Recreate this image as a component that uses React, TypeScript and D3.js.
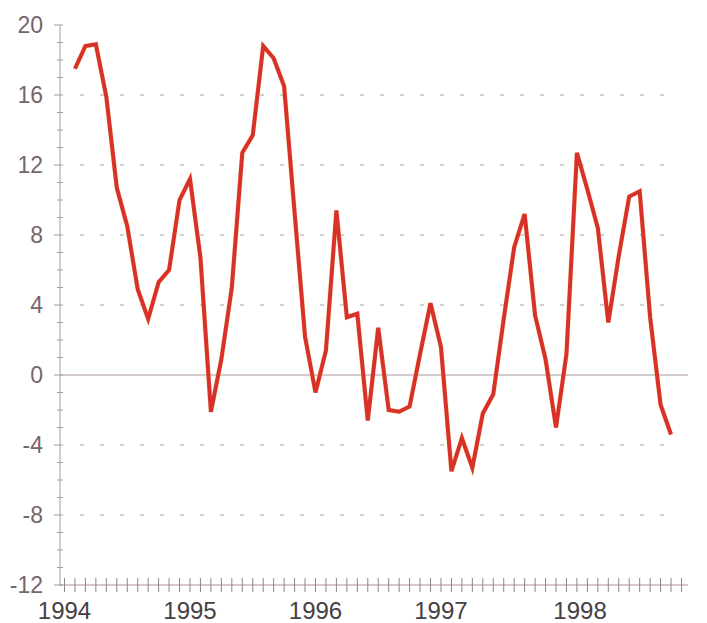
import React from 'react';
import * as d3 from 'd3';

// monthly values, Feb 1994 .. Nov 1998 (percent)
const values: number[] = [
  17.5, 18.8, 18.9, 15.9, 10.7, 8.5, 4.9, 3.2, 5.3, 6.0, 10.0,
  11.2, 6.7, -2.1, 0.9, 5.0, 12.7, 13.7, 18.8, 18.1, 16.5, 9.3,
  2.2, -1.0, 1.4, 9.4, 3.3, 3.5, -2.6, 2.7, -2.0, -2.1, -1.8,
  1.2, 4.1, 1.6, -5.5, -3.6, -5.3, -2.2, -1.1, 3.2, 7.3, 9.2,
  3.4, 0.9, -3.0, 1.2, 12.7, 10.6, 8.4, 3.0, 6.8, 10.2, 10.5,
  3.3, -1.7, -3.4
];
const firstMonth = 1; // months counted from Jan 1994
const monthCount = 60;
const yearLabels = ['1994', '1995', '1996', '1997', '1998'];
const yearLabelMonths = [0, 12, 24, 36, 49.3];
const yTicks = [20, 16, 12, 8, 4, 0, -4, -8, -12];
const gridValues = [16, 12, 8, 4, -4, -8];

const W = 707;
const H = 623;

export default function App() {
  const x = d3.scaleLinear().domain([0, monthCount - 1]).range([64.5, 681.5]);
  const y = d3.scaleLinear().domain([-12, 20]).range([585, 25]);

  const line = d3.line<number>()
    .x((d, i) => x(firstMonth + i))
    .y(d => y(d));

  const minor = d3.range(-12, 21);
  const months = d3.range(0, monthCount);

  return (
    <svg width={W} height={H} style={{position: 'absolute', left: 0, top: 0, display: 'block'}}
         fontFamily="'Liberation Sans', Arial, sans-serif">
      <rect width={W} height={H} fill="#ffffff"/>

      {/* dashed grid */}
      {gridValues.map(v => (
        <line key={'g' + v} x1={80} x2={680} y1={y(v)} y2={y(v)}
              stroke="#a4a4a4" strokeWidth={1} strokeDasharray="4,16"/>
      ))}

      {/* zero line */}
      <line x1={60} x2={688} y1={y(0)} y2={y(0)} stroke="#a8979c" strokeWidth={1.2}/>

      {/* y axis */}
      <line x1={60} x2={60} y1={y(20)} y2={y(-12)} stroke="#aa9ca2" strokeWidth={1}/>
      {minor.map(v => (
        <line key={'m' + v} x1={yTicks.indexOf(v) >= 0 ? 54 : 57} x2={63} y1={y(v)} y2={y(v)}
              stroke="#aa9ca2" strokeWidth={1}/>
      ))}
      {yTicks.map(v => (
        <text key={'t' + v} x={43} y={y(v)} dy="0.36em" textAnchor="end"
              fontSize={23} fill="#75666c">{v}</text>
      ))}

      {/* x axis */}
      <line x1={59} x2={688} y1={y(-12)} y2={y(-12)} stroke="#b08f96" strokeWidth={1.2}/>
      {months.map(m => (
        <line key={'x' + m} x1={x(m)} x2={x(m)} y1={578} y2={592}
              stroke="#8e8588" strokeWidth={1}/>
      ))}
      {yearLabels.map((lab, i) => (
        <text key={lab} x={x(yearLabelMonths[i])} y={619} textAnchor="middle"
              fontSize={24} fill="#463f42">{lab}</text>
      ))}

      {/* series */}
      <path d={line(values) || ''} fill="none" stroke="#f2c040" strokeWidth={5}
            strokeLinejoin="miter" opacity={0.35}/>
      <path d={line(values) || ''} fill="none" stroke="#d8302a" strokeWidth={4}
            strokeLinejoin="miter"/>
    </svg>
  );
}
